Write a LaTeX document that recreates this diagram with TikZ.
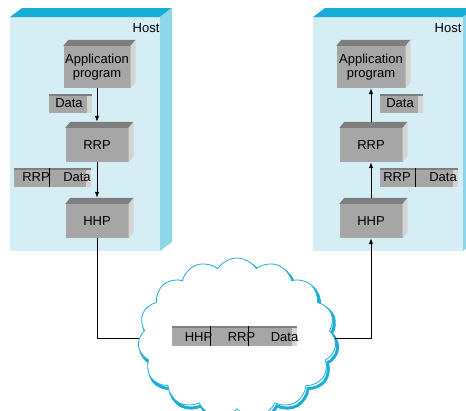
\documentclass[tikz,border=0pt]{standalone}
\usepackage{fontspec}
\setmainfont{Liberation Sans}
\usetikzlibrary{shapes.symbols,arrows.meta}
\definecolor{hostfront}{HTML}{D5EEF5}
\definecolor{hosttop}{HTML}{16ADD6}
\definecolor{hostside}{HTML}{8DD6E8}
\definecolor{boxfront}{HTML}{A6A6A6}
\definecolor{boxtop}{HTML}{7E7E7E}
\definecolor{boxside}{HTML}{D4D4D4}
\definecolor{cloudline}{HTML}{1AAED6}
\begin{document}
\begin{tikzpicture}[x=1pt,y=-1pt,> = {Latex[length=6pt,width=4.5pt]},
		font=\fontsize{13}{13.5}\selectfont,
		block/.style={fill=boxfront,minimum width=63pt,minimum height=34pt,inner sep=0pt,align=center},
		pkt/.style={fill=boxfront,minimum height=19pt,inner sep=0pt,
			path picture={
				\fill[boxside] ([xshift=-5pt]path picture bounding box.north east) rectangle (path picture bounding box.south east);
				\fill[boxtop] (path picture bounding box.north west) rectangle ([yshift=-1.5pt]path picture bounding box.north east);}},
		word/.style={inner sep=0pt},
		wire/.style={line width=0.8pt},
		netcloud/.style={cloud,cloud puffs=15,cloud puff arc=115,cloud ignores aspect,minimum width=198pt,minimum height=160pt,draw=cloudline}]
	\useasboundingbox (0,0) rectangle (466,410);
	\clip (0,0) rectangle (466,410);
	\foreach \hx in {10,313}{
		\fill[hostfront] (\hx,17) rectangle ++(150,234);
		\fill[hosttop] (\hx,17) -- ++(12,-9) -- ++(150,0) -- ++(-12,9) -- cycle;
		\fill[hostside] (\hx+150,17) -- ++(12,-9) -- ++(0,234) -- ++(-12,9) -- cycle;
	}
	\node[word] (lhost) at (146,28) {Host};
	\node[word] (rhost) at (448,28) {Host};
	\node[block,minimum width=67pt,minimum height=42pt] (lapp) at (97,67) {Application\\program};
	\node[block] (lrrp) at (97,145) {RRP};
	\node[block] (lhhp) at (97,221) {HHP};
	\node[block,minimum width=69pt,minimum height=42pt] (rapp) at (371,67) {Application\\program};
	\node[block] (rrrp) at (371,145) {RRP};
	\node[block] (rhhp) at (371,221) {HHP};
	\foreach \b in {lapp,lrrp,lhhp,rapp,rrrp,rhhp}{
		\fill[boxtop] (\b.north west) -- ++(5,-6) -- ([shift={(5pt,6pt)}]\b.north east) -- (\b.north east) -- cycle;
		\fill[boxside] (\b.north east) -- ++(5,-6) -- ([shift={(5pt,6pt)}]\b.south east) -- (\b.south east) -- cycle;
	}
	\node[pkt,minimum width=43pt] (ldata) at (70.5,103.5) {};
	\node[word] (ldatat) at (69,103.5) {Data};
	\node[pkt,minimum width=43pt] (rdata) at (401.5,103.5) {};
	\node[word] (rdatat) at (400,103.5) {Data};
	\node[pkt,minimum width=77pt] (lrd) at (52.5,177.5) {};
	\node[word] (lrdh) at (36,177.5) {RRP};
	\node[word] (lrdd) at (77,177.5) {Data};
	\draw[wire] ([xshift=36pt]lrd.north west) -- ([xshift=36pt]lrd.south west);
	\node[pkt,minimum width=78pt] (rrd) at (419,177.5) {};
	\node[word] (rrdh) at (397,177.5) {RRP};
	\node[word] (rrdd) at (443,177.5) {Data};
	\draw[wire] ([xshift=36pt]rrd.north west) -- ([xshift=36pt]rrd.south west);
	\draw[wire,->] (lapp.south) -- ([yshift=6pt]lrrp.north);
	\draw[wire,->] (lrrp.south) -- ([yshift=6pt]lhhp.north);
	\draw[wire,->] ([yshift=6pt]rrrp.north) -- (rapp.south);
	\draw[wire,->] ([yshift=6pt]rhhp.north) -- (rrrp.south);
	\node[netcloud,line width=3pt] (netshade) at (239,341) {};
	\node[netcloud,fill=white,line width=0.8pt] (net) at (237,338) {};
	\node[pkt,minimum width=125pt,minimum height=20pt] (npkt) at (234.5,336) {};
	\draw[wire] ([xshift=39pt]npkt.north west) -- ([xshift=39pt]npkt.south west)
		([xshift=77pt]npkt.north west) -- ([xshift=77pt]npkt.south west);
	\node[word] (nhhp) at (198.5,337) {HHP};
	\node[word] (nrrp) at (241.5,337) {RRP};
	\node[word] (ndata) at (284.5,337) {Data};
	\draw[wire] (lhhp.south) |- (net.west);
	\draw[wire,->] (net.east) -| (rhhp.south);
\end{tikzpicture}
\end{document}
